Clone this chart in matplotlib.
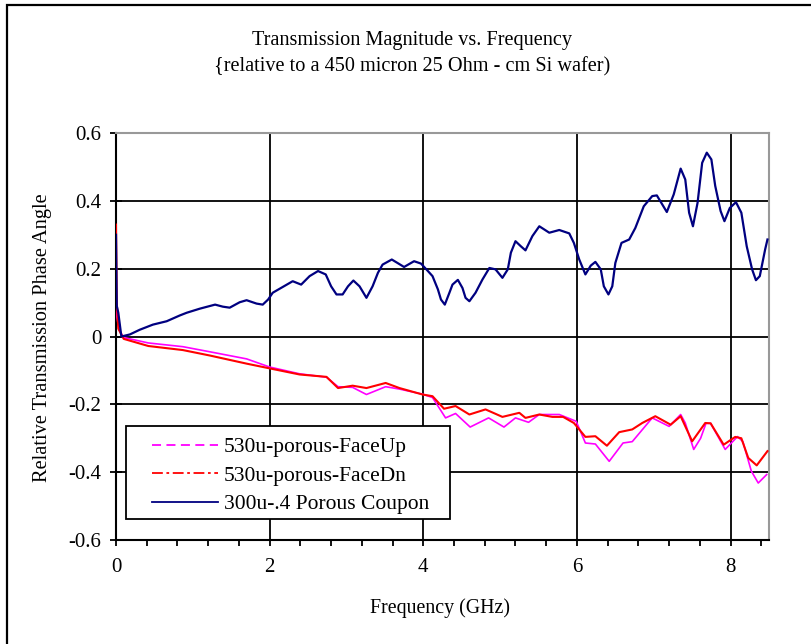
import matplotlib
matplotlib.use("Agg")
import matplotlib.pyplot as plt
from matplotlib.lines import Line2D
from matplotlib.patches import Rectangle
import numpy as np

plt.rcParams['font.family'] = ['Liberation Serif', 'DejaVu Serif']

title_lines = ["Transmission Magnitude vs. Frequency",
               "{relative to a 450 micron 25 Ohm - cm Si wafer)"]
x_label = "Frequency (GHz)"
y_label = "Relative Transmission Phase Angle"
series_names = ["530u-porous-FaceUp", "530u-porous-FaceDn", "300u-.4 Porous Coupon"]

# 300u-.4 Porous Coupon (blue)
blue_f = [0.00, 0.01, 0.03, 0.07, 0.18, 0.31, 0.48, 0.66, 0.83, 0.92, 1.09, 1.29, 1.39, 1.48,
          1.61, 1.70, 1.83, 1.91, 1.98, 2.04, 2.17, 2.30, 2.41, 2.52, 2.63, 2.73, 2.80, 2.87,
          2.95, 3.02, 3.09, 3.17, 3.26, 3.34, 3.41, 3.47, 3.59, 3.75, 3.88, 3.97, 4.06, 4.12,
          4.19, 4.23, 4.28, 4.34, 4.38, 4.45, 4.51, 4.55, 4.60, 4.68, 4.77, 4.86, 4.94, 5.03,
          5.10, 5.14, 5.20, 5.27, 5.33, 5.42, 5.51, 5.64, 5.77, 5.90, 5.96, 6.03, 6.11, 6.18,
          6.24, 6.31, 6.35, 6.41, 6.46, 6.50, 6.58, 6.68, 6.76, 6.87, 6.98, 7.04, 7.17, 7.26,
          7.35, 7.41, 7.46, 7.51, 7.57, 7.63, 7.69, 7.75, 7.80, 7.87, 7.92, 7.99, 8.07, 8.14,
          8.21, 8.28, 8.33, 8.38, 8.45, 8.48]
blue_v = [0.30, 0.09, 0.07, 0.00, 0.006, 0.020, 0.035, 0.045, 0.062, 0.070, 0.082, 0.094, 0.088, 0.085,
          0.101, 0.107, 0.097, 0.094, 0.109, 0.129, 0.146, 0.163, 0.153, 0.178, 0.193, 0.183, 0.148, 0.124,
          0.124, 0.148, 0.165, 0.148, 0.114, 0.148, 0.188, 0.212, 0.227, 0.205, 0.222, 0.215, 0.193, 0.178,
          0.139, 0.109, 0.094, 0.129, 0.153, 0.167, 0.143, 0.114, 0.104, 0.129, 0.168, 0.202, 0.198, 0.173,
          0.198, 0.247, 0.281, 0.266, 0.254, 0.296, 0.325, 0.306, 0.314, 0.304, 0.276, 0.227, 0.183, 0.209,
          0.220, 0.198, 0.148, 0.124, 0.148, 0.217, 0.276, 0.286, 0.320, 0.384, 0.414, 0.416, 0.367, 0.419,
          0.495, 0.463, 0.365, 0.325, 0.394, 0.512, 0.542, 0.522, 0.444, 0.370, 0.340, 0.379, 0.396, 0.365,
          0.266, 0.198, 0.166, 0.178, 0.257, 0.286]

# 530u-porous-FaceDn (red)
red_f = [0.00, 0.01, 0.03, 0.10, 0.42, 0.87, 1.22, 1.70, 2.00, 2.39, 2.74, 2.89, 3.08, 3.26,
         3.51, 3.69, 3.99, 4.12, 4.27, 4.42, 4.60, 4.81, 5.03, 5.25, 5.33, 5.51, 5.68, 5.82,
         5.96, 6.11, 6.24, 6.39, 6.55, 6.72, 6.85, 7.02, 7.22, 7.35, 7.50, 7.67, 7.74, 7.91,
         8.06, 8.14, 8.23, 8.34, 8.48]
red_v = [0.33, 0.10, 0.023, -0.007, -0.028, -0.040, -0.056, -0.080, -0.094, -0.112, -0.119, -0.152, -0.145, -0.152,
         -0.137, -0.152, -0.171, -0.176, -0.213, -0.205, -0.230, -0.215, -0.237, -0.225, -0.240, -0.230, -0.237, -0.237,
         -0.255, -0.296, -0.294, -0.322, -0.282, -0.274, -0.255, -0.235, -0.260, -0.235, -0.309, -0.255, -0.256, -0.319,
         -0.296, -0.300, -0.358, -0.380, -0.338]

# 530u-porous-FaceUp (magenta)
mag_f = [0.00, 0.01, 0.04, 0.10, 0.42, 0.87, 1.22, 1.70, 2.00, 2.39, 2.74, 2.89, 3.08, 3.26,
         3.51, 3.69, 3.99, 4.12, 4.29, 4.42, 4.61, 4.85, 5.05, 5.20, 5.37, 5.51, 5.77, 5.99,
         6.11, 6.24, 6.42, 6.60, 6.72, 6.98, 7.20, 7.35, 7.41, 7.52, 7.61, 7.68, 7.74, 7.93,
         8.09, 8.16, 8.27, 8.36, 8.47]
mag_v = [0.14, 0.06, 0.02, -0.003, -0.019, -0.030, -0.045, -0.066, -0.090, -0.110, -0.120, -0.148, -0.150, -0.171,
         -0.148, -0.155, -0.170, -0.180, -0.240, -0.227, -0.267, -0.240, -0.267, -0.240, -0.253, -0.230, -0.230, -0.250,
         -0.314, -0.317, -0.368, -0.314, -0.310, -0.240, -0.265, -0.230, -0.255, -0.333, -0.300, -0.256, -0.256, -0.333,
         -0.295, -0.310, -0.397, -0.432, -0.407]

x_ticks = [0, 2, 4, 6, 8]
y_ticks = [-0.6, -0.4, -0.2, 0, 0.2, 0.4, 0.6]
y_tick_labels = ["-0.6", "-0.4", "-0.2", "0", "0.2", "0.4", "0.6"]

W, H = 811, 644
fig = plt.figure(figsize=(W / 100, H / 100), dpi=100)
fig.patches.append(Rectangle((7 / W, -0.05), 1.2, 1 - 5 / H + 0.05, transform=fig.transFigure,
                             fill=False, edgecolor='black', linewidth=1.6, clip_on=False))

AX_L, AX_R, AX_T, AX_B = 116, 769, 133, 540
ax = fig.add_axes([AX_L / W, 1 - AX_B / H, (AX_R - AX_L) / W, (AX_B - AX_T) / H])

ax.plot(mag_f, mag_v, color='#FF00FF', linewidth=1.2, zorder=3)
ax.plot(red_f, red_v, color='#FF0000', linewidth=1.5, zorder=4)
ax.plot(blue_f, blue_v, color='#000080', linewidth=1.6, zorder=5)

ax.set_xlim(0, 8.5)
ax.set_ylim(-0.6, 0.6)
ax.set_xticks(x_ticks)
ax.set_xticklabels([str(t) for t in x_ticks])
ax.set_xticks(np.arange(0, 8.5, 0.4), minor=True)
ax.set_yticks(y_ticks)
ax.set_yticklabels(y_tick_labels)
ax.grid(True, which='major', color='black', linewidth=1.3)
ax.set_axisbelow(True)

ax.tick_params(axis='x', which='both', direction='out', length=4, width=1.3, labelsize=15, pad=9)
ax.tick_params(axis='y', which='major', direction='inout', length=9, width=1.3, labelsize=15, pad=6)

for s in ['left', 'bottom']:
    ax.spines[s].set_color('black')
    ax.spines[s].set_linewidth(1.5)
for s in ['top', 'right']:
    ax.spines[s].set_color('#999999')
    ax.spines[s].set_linewidth(1.5)

fig.text(440 / W, 1 - 608 / H, x_label, ha='center', va='center', fontsize=14.3)
fig.text(43 / W, 1 - 337.5 / H, y_label, ha='center', va='center', rotation=90, fontsize=14.7)

fig.text(412 / W, 1 - 40 / H, title_lines[0], ha='center', va='center', fontsize=14.6)
fig.text(412 / W, 1 - 67 / H, title_lines[1], ha='center', va='center', fontsize=14.6)

# legend frame (drawn separately so the padding matches the original)
aw, ah = AX_R - AX_L, AX_B - AX_T
ax.add_patch(Rectangle(((126 - AX_L) / aw, (AX_B - 519) / ah), (450 - 126) / aw, (519 - 426) / ah,
                       transform=ax.transAxes, facecolor='white', edgecolor='black',
                       linewidth=1.3, zorder=9, clip_on=False))

handles = [Line2D([], [], color='#FF00FF', linestyle=(0, (5, 3)), linewidth=1.3),
           Line2D([], [], color='#FF0000', linestyle=(0, (6, 2, 1.5, 2)), linewidth=1.3),
           Line2D([], [], color='#000080', linestyle='-', linewidth=1.3)]
leg = ax.legend(handles, series_names, loc='upper left',
                bbox_to_anchor=((152 - AX_L) / aw, (AX_B - 437) / ah),
                fontsize=15.5, frameon=False,
                handlelength=3.07, handletextpad=0.28, borderpad=0, labelspacing=0.4,
                borderaxespad=0)
leg.set_zorder(10)

fig.savefig("out.png", dpi=100)
